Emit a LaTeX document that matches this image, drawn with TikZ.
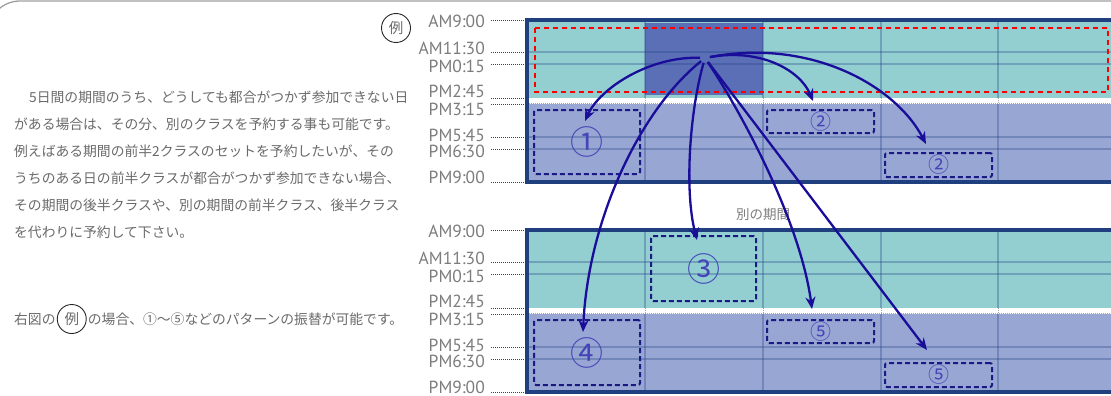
\documentclass[tikz,border=0pt]{standalone}
\usepackage{fontspec}
\setmainfont{PT Sans}
\newfontfamily\jp{Noto Sans CJK JP}
\usetikzlibrary{arrows.meta,positioning}
\definecolor{tealcell}{HTML}{93CED1}
\definecolor{lavcell}{HTML}{98A6D3}
\definecolor{selcell}{HTML}{5A6FB6}
\definecolor{framec}{HTML}{1F3F7F}
\definecolor{arrowc}{HTML}{1A0D99}
\definecolor{altc}{HTML}{1A1A85}
\definecolor{numc}{HTML}{4545B8}
\definecolor{txtc}{HTML}{6A6A6A}
\definecolor{lblc}{HTML}{7C7C7C}

\begin{document}
\begin{tikzpicture}[x=1pt,y=-1pt,
  arr/.style={-{Stealth[length=12pt,width=10pt]}, line width=2.3pt, draw=arrowc,
              shorten <=5pt},
  gridline/.style={draw=framec, opacity=0.3, line width=1.3pt},
  gapdot/.style={draw=gray!70, line width=0.6pt, dash pattern=on 1pt off 1pt},
  leader/.style={draw=black!75, line width=0.7pt, dash pattern=on 1pt off 1pt},
  frameline/.style={draw=framec, line width=3.4pt},
  timelbl/.style={anchor=east, inner sep=0pt, text=lblc, font=\fontsize{17.5}{17.5}\selectfont},
  altrect/.style={draw=altc, line width=2pt, dash pattern=on 5pt off 3pt,
                  rounded corners=2pt, inner sep=0pt, text=numc},
  bignum/.style={font=\jp\fontsize{33}{33}\selectfont},
  smallnum/.style={font=\jp\fontsize{21}{21}\selectfont},
  reicircle/.style={draw=black!85, circle, line width=0.9pt, minimum size=29pt,
                    inner sep=0pt, text=txtc, font=\jp\fontsize{14.5}{14.5}\selectfont},
  jptext/.style={inner sep=0pt, text=txtc, font=\jp\fontsize{13.8}{27}\selectfont},
]
\useasboundingbox (0,0) rectangle (1111,396);

% frame of the page
\draw[gray!75, line width=1.3pt, rounded corners=32pt] (-12,60) -- (-12,1) -- (1120,1);

% the two time tables
\foreach \g/\oy in {top/0,bot/210}{
  \begin{scope}[yshift=-\oy pt]
    \fill[tealcell] (527,20) rectangle (1120,98);
    \fill[lavcell] (527,104) rectangle (1120,182);
    \ifnum\oy=0 \fill[selcell] (645,23) rectangle (763,95); \fi
    \foreach \xc in {645,763,881,998}{
      \draw[gridline] (\xc,20) -- (\xc,98) (\xc,104) -- (\xc,182);
      \draw[gapdot] (\xc,98) -- (\xc,104);
    }
    \foreach \yr in {52,64,137,149}
      \draw[gridline] (527,\yr) -- (1120,\yr);
    \draw[gapdot] (527,103.3) -- (1120,103.3);
    \draw[frameline] (527,20) rectangle (1120,182);
    \foreach \t/\ty/\ly [count=\i] in {AM9:00/21/20, AM11:30/48/52, PM0:15/66/64,
        PM2:45/91/98, PM3:15/109/104, PM5:45/135/137, PM6:30/151/149, PM9:00/177/182}{
      \node[timelbl] (\g-\i) at (485,\ty) {\t};
      \draw[leader] (491,\ly) -- (525,\ly);
    }
  \end{scope}
}

% selected set of classes
\draw[red, line width=2.2pt, dash pattern=on 5pt off 4pt] (535,28) rectangle (1108,92);

\node[reicircle] (rei) at (396,28) {例};
\node[inner sep=0pt, text=lblc, font=\jp\fontsize{13.5}{13.5}\selectfont] (other) at (763,214) {別の期間};

% replacement classes
\node[altrect, bignum, minimum width=106pt, minimum height=64pt] (alt1) at (587,142) {①};
\node[altrect, smallnum, minimum width=107pt, minimum height=23pt] (alt2a) at (820.5,121.5) {②};
\node[altrect, smallnum, minimum width=107pt, minimum height=24pt] (alt2b) at (938.5,165) {②};
\node[altrect, bignum, minimum width=105pt, minimum height=65pt] (alt3) at (703.5,268.5) {③};
\node[altrect, bignum, minimum width=106pt, minimum height=65pt] (alt4) at (587,352.5) {④};
\node[altrect, smallnum, minimum width=107pt, minimum height=23pt] (alt5a) at (820.5,331.5) {⑤};
\node[altrect, smallnum, minimum width=107pt, minimum height=24pt] (alt5b) at (938.5,375) {⑤};

% arrows
\coordinate (src) at (705,58);
\coordinate (t1) at (585,121);
\coordinate (t2) at (813,101);
\coordinate (t3) at (926,144);
\coordinate (t4) at (583,332);
\coordinate (t5) at (697,240);
\coordinate (t6) at (812,309);
\coordinate (t7) at (927,350);
\draw[arr] (src) .. controls (650,56) and (600,88) .. (t1);
\draw[arr] (src) .. controls (760,48) and (800,70) .. (t2);
\draw[arr] (src) .. controls (810,38) and (895,85) .. (t3);
\draw[arr] (src) .. controls (640,110) and (588,220) .. (t4);
\draw[arr] (src) .. controls (690,110) and (684,190) .. (t5);
\draw[arr] (src) .. controls (740,110) and (800,220) .. (t6);
\draw[arr] (src) -- (t7);

% explanation
\node[jptext, align=left, anchor=north west] (desc) at (14,91)
  {\hspace*{15pt}5日間の期間のうち、どうしても都合がつかず参加できない日\\
   がある場合は、その分、別のクラスを予約する事も可能です。\\
   例えばある期間の前半2クラスのセットを予約したいが、その\\
   うちのある日の前半クラスが都合がつかず参加できない場合、\\
   その期間の後半クラスや、別の期間の前半クラス、後半クラス\\
   を代わりに予約して下さい。};
\node[jptext, anchor=west] (note1) at (14,319) {右図の};
\node[reicircle, right=1pt of note1] (rei2) {例};
\node[jptext, right=1pt of rei2] (note2) {の場合、①〜⑤などのパターンの振替が可能です。};
\end{tikzpicture}
\end{document}
